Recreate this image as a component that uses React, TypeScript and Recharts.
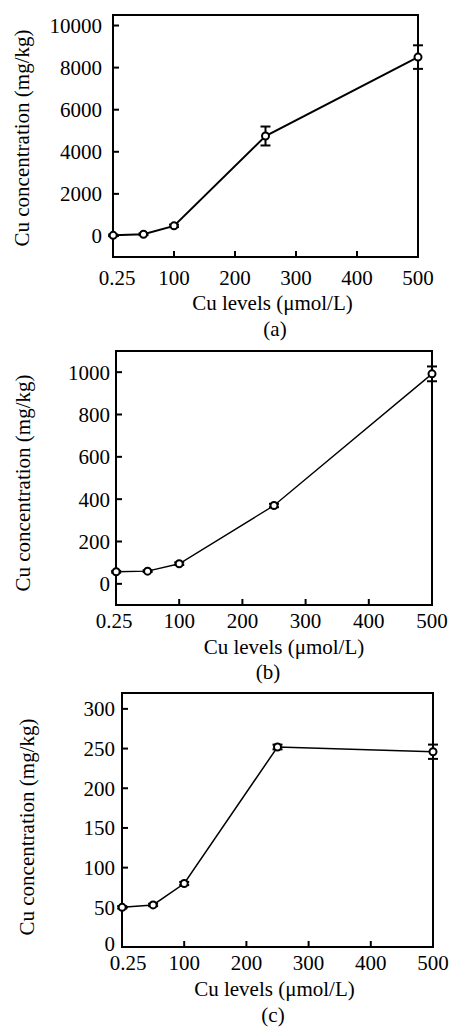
import React from "react";
import { LineChart, Line, XAxis, YAxis, ErrorBar, ReferenceArea } from "recharts";

// Cu supply levels (µmol/L); the first one is plotted at the origin
const cuLevels = [0.25, 50, 100, 250, 500];
const xTicks = [0, 100, 200, 300, 400, 500];

// (a)
const concA = [30, 80, 480, 4750, 8500];
const errA = [40, 40, 60, 450, 560];
const yTicksA = [0, 2000, 4000, 6000, 8000, 10000];

// (b)
const concB = [57, 60, 95, 370, 992];
const errB = [4, 4, 6, 8, 35];
const yTicksB = [0, 200, 400, 600, 800, 1000];

// (c)
const concC = [50, 53, 80, 252, 246];
const errC = [1.5, 1.5, 2, 3, 9];
const yTicksC = [0, 50, 100, 150, 200, 250, 300];

const FONT = "'Liberation Serif', 'Times New Roman', serif";

interface PanelProps {
  top: number;
  plot: { left: number; right: number; top: number; bottom: number };
  conc: number[];
  err: number[];
  yTicks: number[];
  yDomain: [number, number];
  xTickMargin: number;
  yTickMargin: number;
  firstTickShift: number;
  zeroLift: number;
  xLabelShift: [number, number];
  yLabelShift: [number, number];
  lineWidth: number;
  caption: string;
  captionTop: number;
  captionX: number;
}

function Panel(p: PanelProps) {
  const data = cuLevels.map((x, i) => ({ x, y: p.conc[i], err: p.err[i] }));
  const xAxisHeight = 60;
  const height = p.plot.bottom - p.top + xAxisHeight;
  const tickStyle = { fill: "#000", fontSize: 21, fontFamily: FONT };
  const stroke = { stroke: "#000", strokeWidth: 2 };

  // the 0.25 label sits a little right of the origin in the original
  const renderXTick = (props: any) => {
    const v = props.payload.value;
    return (
      <text
        x={props.x + (v === 0 ? p.firstTickShift : 0)}
        y={props.y}
        dy="0.71em"
        textAnchor="middle"
        {...tickStyle}
      >
        {v === 0 ? "0.25" : String(v)}
      </text>
    );
  };

  const renderYTick = (props: any) => {
    const v = props.payload.value;
    return (
      <text
        x={props.x}
        y={props.y - (v === 0 ? p.zeroLift : 0)}
        dy="0.355em"
        textAnchor="end"
        {...tickStyle}
      >
        {String(v)}
      </text>
    );
  };

  return (
    <>
      <div style={{ position: "absolute", left: 0, top: p.top }}>
        <LineChart
          width={450}
          height={height}
          data={data}
          margin={{ top: p.plot.top - p.top, right: 450 - p.plot.right, bottom: 0, left: 0 }}
        >
          <XAxis
            dataKey="x"
            type="number"
            domain={[0, 500]}
            ticks={xTicks}
            interval={0}
            height={xAxisHeight}
            tick={renderXTick}
            tickSize={-6}
            tickMargin={p.xTickMargin}
            axisLine={stroke}
            tickLine={stroke}
            label={{
              value: "Cu levels (\u03bcmol/L)",
              position: "center",
              dx: p.xLabelShift[0],
              dy: p.xLabelShift[1],
              fill: "#000",
              fontSize: 21,
              fontFamily: FONT,
            }}
          />
          <YAxis
            type="number"
            domain={p.yDomain}
            ticks={p.yTicks}
            interval={0}
            width={p.plot.left}
            tick={renderYTick}
            tickSize={-6}
            tickMargin={p.yTickMargin}
            axisLine={stroke}
            tickLine={stroke}
            label={{
              value: "Cu concentration (mg/kg)",
              angle: -90,
              position: "center",
              dx: p.yLabelShift[0],
              dy: p.yLabelShift[1],
              fill: "#000",
              fontSize: 21,
              fontFamily: FONT,
            }}
          />
          <ReferenceArea
            x1={0}
            x2={500}
            y1={p.yDomain[0]}
            y2={p.yDomain[1]}
            fill="none"
            fillOpacity={0}
            stroke="#000"
            strokeWidth={2}
          />
          <Line
            dataKey="y"
            stroke="#000"
            strokeWidth={p.lineWidth}
            dot={{ r: 3.5, fill: "#fff", stroke: "#000", strokeWidth: 2 }}
            isAnimationActive={false}
          >
            <ErrorBar dataKey="err" width={5} stroke="#000" strokeWidth={2} direction="y" />
          </Line>
        </LineChart>
      </div>
      <div
        style={{
          position: "absolute",
          left: p.captionX - 30,
          width: 60,
          top: p.captionTop,
          textAlign: "center",
          fontFamily: FONT,
          fontSize: 21,
          lineHeight: "21px",
        }}
      >
        {p.caption}
      </div>
    </>
  );
}

export default function App() {
  return (
    <div
      style={{
        position: "absolute",
        left: 0,
        top: 0,
        width: 450,
        height: 1030,
        background: "#fff",
        fontFamily: FONT,
        color: "#000",
      }}
    >
      <Panel
        top={0}
        plot={{ left: 113, right: 418, top: 15, bottom: 257 }}
        conc={concA}
        err={errA}
        yTicks={yTicksA}
        yDomain={[-1000, 10500]}
        xTickMargin={19}
        yTickMargin={17}
        firstTickShift={4}
        zeroLift={0}
        xLabelShift={[7, 16]}
        yLabelShift={[-35, 2]}
        lineWidth={2}
        caption="(a)"
        captionTop={319}
        captionX={275}
      />
      <Panel
        top={330}
        plot={{ left: 116, right: 432, top: 351, bottom: 605 }}
        conc={concB}
        err={errB}
        yTicks={yTicksB}
        yDomain={[-100, 1100]}
        xTickMargin={14}
        yTickMargin={12}
        firstTickShift={-2}
        zeroLift={0}
        xLabelShift={[10, 12]}
        yLabelShift={[-35, 5]}
        lineWidth={1.4}
        caption="(b)"
        captionTop={662}
        captionX={268}
      />
      <Panel
        top={670}
        plot={{ left: 122, right: 433, top: 693, bottom: 947 }}
        conc={concC}
        err={errC}
        yTicks={yTicksC}
        yDomain={[0, 320]}
        xTickMargin={14}
        yTickMargin={13}
        firstTickShift={6}
        zeroLift={3}
        xLabelShift={[-3, 12]}
        yLabelShift={[-34, 7]}
        lineWidth={1.5}
        caption="(c)"
        captionTop={1005}
        captionX={273}
      />
    </div>
  );
}
